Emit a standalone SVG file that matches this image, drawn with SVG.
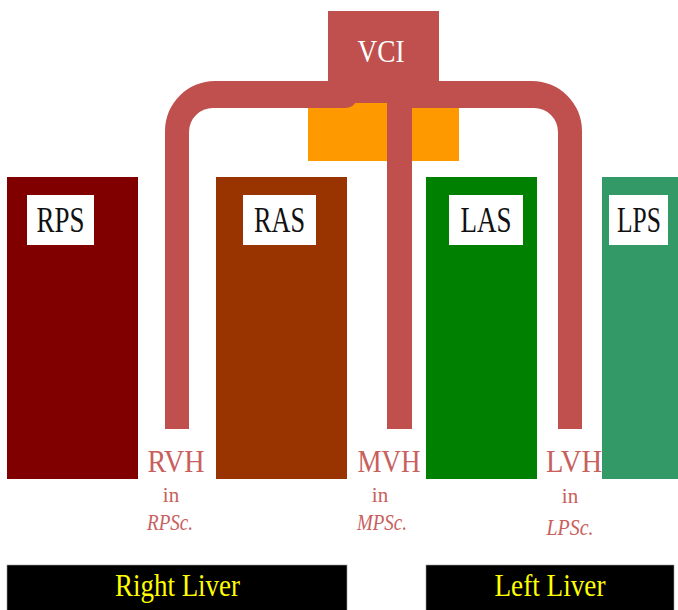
<svg xmlns="http://www.w3.org/2000/svg" width="678" height="610" viewBox="0 0 678 610">
  <style>
    text { font-family: "Liberation Serif", "Times New Roman", serif; text-anchor: middle; }
    .seg-label { font-size: 35px; fill: #111; }
    .vein { fill: #C0504D; }
    .vh { font-size: 32px; fill: #C8605D; }
    .vh-in { font-size: 21px; fill: #C8605D; }
    .vh-seg { font-size: 23px; fill: #C8605D; font-style: italic; }
    .liver { fill: #000; stroke: #999; stroke-width: 0.6; }
    .liver-label { font-size: 31px; fill: #FFFF00; }
  </style>

  <rect width="678" height="610" fill="#fff"/>

  <!-- liver segments -->
  <g id="rps">
    <rect x="7" y="177" width="131" height="302" fill="#800000"/>
    <rect x="27" y="195" width="67" height="50" fill="#fff"/>
    <text class="seg-label" x="60.5" y="232" textLength="48" lengthAdjust="spacingAndGlyphs">RPS</text>
  </g>
  <g id="ras">
    <rect x="216" y="177" width="131" height="302" fill="#993300"/>
    <rect x="243" y="195" width="73" height="50" fill="#fff"/>
    <text class="seg-label" x="279.5" y="232" textLength="51" lengthAdjust="spacingAndGlyphs">RAS</text>
  </g>
  <g id="las">
    <rect x="426" y="177" width="111" height="302" fill="#008000"/>
    <rect x="449" y="195" width="74" height="50" fill="#fff"/>
    <text class="seg-label" x="486" y="232" textLength="51" lengthAdjust="spacingAndGlyphs">LAS</text>
  </g>
  <g id="lps">
    <rect x="602" y="177" width="76" height="302" fill="#339966"/>
    <rect x="609" y="195" width="59" height="50" fill="#fff"/>
    <text class="seg-label" x="639" y="232" textLength="44" lengthAdjust="spacingAndGlyphs">LPS</text>
  </g>

  <!-- caudate region behind the confluence -->
  <g id="caudate">
    <rect x="308" y="103" width="151" height="58" fill="#FF9900"/>
  </g>

  <!-- hepatic veins draining into the vena cava -->
  <g id="connectors">
    <path class="vein" d="M165,429 V131 A50,50 0 0 1 215,81 H358 V95 A13,13 0 0 1 345,108 H213 A24,24 0 0 0 189,132 V429 Z"/>
    <path class="vein" d="M400,81 H532 A50,50 0 0 1 582,131 V429 H558 V132 A24,24 0 0 0 534,108 H400 Z"/>
    <rect class="vein" x="387" y="90" width="25" height="339"/>
  </g>

  <g id="vci">
    <rect class="vein" x="328" y="11" width="111" height="92"/>
    <text x="381" y="62" font-size="31" fill="#fff" textLength="47" lengthAdjust="spacingAndGlyphs">VCI</text>
  </g>

  <!-- vein labels -->
  <g id="rvh-label">
    <text class="vh" x="176" y="472" textLength="57" lengthAdjust="spacingAndGlyphs">RVH</text>
    <text class="vh-in" x="171" y="502">in</text>
    <text class="vh-seg" x="170" y="530" textLength="46" lengthAdjust="spacingAndGlyphs">RPSc.</text>
  </g>
  <g id="mvh-label">
    <text class="vh" x="389" y="472" textLength="63" lengthAdjust="spacingAndGlyphs">MVH</text>
    <text class="vh-in" x="380" y="502">in</text>
    <text class="vh-seg" x="382" y="530" textLength="50" lengthAdjust="spacingAndGlyphs">MPSc.</text>
  </g>
  <g id="lvh-label">
    <text class="vh" x="574" y="472" textLength="56" lengthAdjust="spacingAndGlyphs">LVH</text>
    <text class="vh-in" x="570" y="503">in</text>
    <text class="vh-seg" x="570" y="535" textLength="47" lengthAdjust="spacingAndGlyphs">LPSc.</text>
  </g>

  <!-- lobes -->
  <g id="right-liver">
    <rect class="liver" x="7" y="565" width="340" height="50"/>
    <text class="liver-label" x="177.5" y="596" textLength="125" lengthAdjust="spacingAndGlyphs">Right Liver</text>
  </g>
  <g id="left-liver">
    <rect class="liver" x="426" y="565" width="248" height="50"/>
    <text class="liver-label" x="550" y="596" textLength="111" lengthAdjust="spacingAndGlyphs">Left Liver</text>
  </g>
</svg>
